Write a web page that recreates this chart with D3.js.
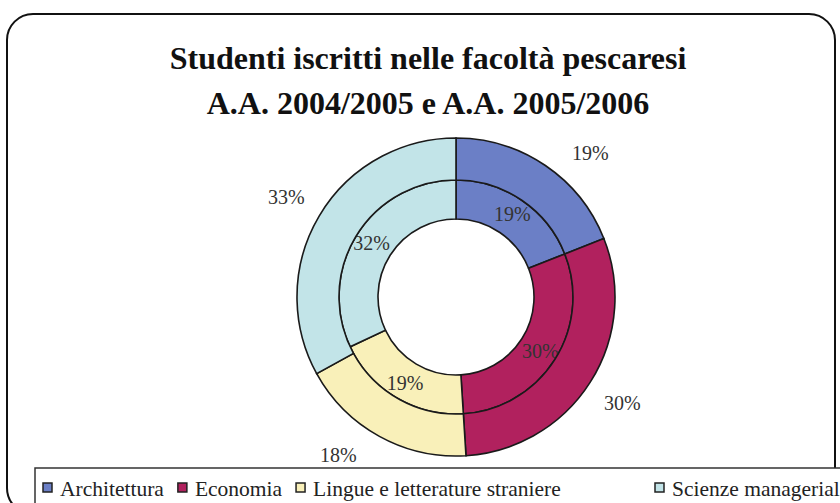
<!DOCTYPE html>
<html lang="it">
  <head>
    <meta charset="utf-8" />
    <title>Studenti iscritti nelle facoltà pescaresi</title>
    <style>
      body { margin: 0; background: #fff; }
      svg { display: block; font-family: "Liberation Serif", "Times New Roman", serif; }
    </style>
  </head>
  <body>
    <div id="chart"></div>
    <script src="https://d3js.org/d3.v7.min.js"></script>
    <script>
      // data
      var facolta = ["Architettura", "Economia", "Lingue e letterature straniere", "Scienze manageriali"];
      var aa0405 = [19, 30, 19, 32]; // inner ring
      var aa0506 = [19, 30, 18, 33]; // outer ring
      var colori = ["#6b7fc6", "#b1215e", "#f9f0b9", "#c2e4e8"];
      var titolo = ["Studenti iscritti nelle facoltà pescaresi", "A.A. 2004/2005 e A.A. 2005/2006"];

      var W = 840, H = 503;
      var cx = 456, cy = 297;
      var rHole = 78, rMid = 117, rOut = 159;
      var legendY = 468;
      // labels are kept between these two lines (plot area)
      var labelTop = 153, labelBottom = 455;

      var svg = d3.select("#chart").append("svg")
        .attr("width", W)
        .attr("height", H);

      // outer frame
      svg.append("rect")
        .attr("x", 7).attr("y", 14)
        .attr("width", 828).attr("height", 500)
        .attr("rx", 26).attr("ry", 26)
        .attr("fill", "#fff")
        .attr("stroke", "#111")
        .attr("stroke-width", 2);

      // title
      svg.selectAll("text.title")
        .data(titolo)
        .enter()
        .append("text")
        .attr("class", "title")
        .attr("x", 428)
        .attr("y", function (d, i) { return 69 + i * 45; })
        .attr("text-anchor", "middle")
        .attr("font-size", 32)
        .attr("font-weight", "bold")
        .attr("fill", "#111")
        .text(function (d) { return d; });

      var pie = d3.pie().sort(null).value(function (d) { return d; });
      var color = d3.scaleOrdinal().domain(d3.range(facolta.length)).range(colori);

      var g = svg.append("g").attr("transform", "translate(" + cx + "," + cy + ")");

      var rings = [
        { values: aa0405, r0: rHole, r1: rMid, labelR: 100 },
        { values: aa0506, r0: rMid, r1: rOut, labelR: 197 }
      ];

      function labelPos(d, r) {
        var a = (d.startAngle + d.endAngle) / 2;
        var x = Math.sin(a) * r, y = -Math.cos(a) * r;
        var top = labelTop - cy, bottom = labelBottom - cy;
        if (y < top || y > bottom) {
          // slide along the circle until it fits
          y = y < top ? top : bottom;
          x = (x < 0 ? -1 : 1) * Math.sqrt(r * r - y * y);
        }
        return [x, y];
      }

      rings.forEach(function (ring) {
        var arcs = pie(ring.values);
        var arc = d3.arc().innerRadius(ring.r0).outerRadius(ring.r1);

        g.append("g")
          .selectAll("path")
          .data(arcs)
          .enter()
          .append("path")
          .attr("d", arc)
          .attr("fill", function (d, i) { return color(i); })
          .attr("stroke", "#1a1a1a")
          .attr("stroke-width", 1.6);

        g.append("g")
          .selectAll("text")
          .data(arcs)
          .enter()
          .append("text")
          .attr("transform", function (d) { return "translate(" + labelPos(d, ring.labelR) + ")"; })
          .attr("text-anchor", "middle")
          .attr("dy", "0.35em")
          .attr("font-size", 20)
          .attr("fill", "#333")
          .text(function (d) { return d.data + "%"; });
      });

      // legend
      svg.append("rect")
        .attr("x", 35).attr("y", legendY)
        .attr("width", 820).attr("height", 60)
        .attr("fill", "#fff")
        .attr("stroke", "#333")
        .attr("stroke-width", 1.5);

      var lx = 43;
      facolta.forEach(function (name, i) {
        if (i === 3) lx = Math.max(lx, 655);
        var item = svg.append("g").attr("transform", "translate(" + lx + "," + (legendY + 20) + ")");
        item.append("rect")
          .attr("x", 0).attr("y", -5)
          .attr("width", 9).attr("height", 9)
          .attr("fill", color(i))
          .attr("stroke", "#222")
          .attr("stroke-width", 1.5);
        var t = item.append("text")
          .attr("x", 17)
          .attr("dy", "0.35em")
          .attr("font-size", 21.5)
          .attr("fill", "#222")
          .text(name);
        lx += 17 + t.node().getComputedTextLength() + 14;
      });
    </script>
  </body>
</html>
